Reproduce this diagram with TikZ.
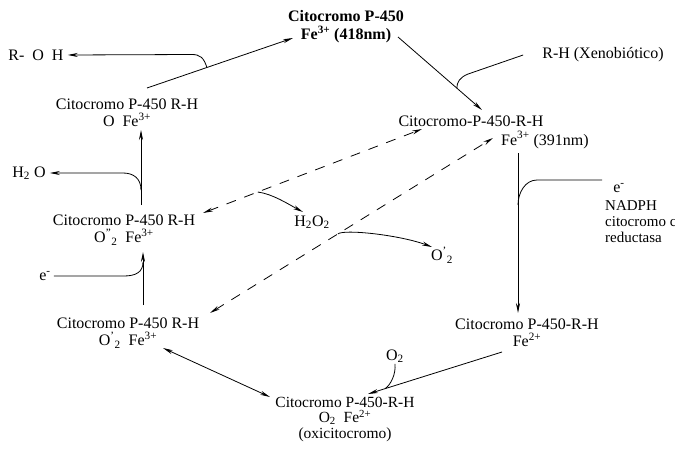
\documentclass[tikz,border=0pt]{standalone}
\usepackage{fontspec}
\setmainfont{Liberation Serif}
\usetikzlibrary{arrows.meta}
\begin{document}
\begin{tikzpicture}[x=1pt,y=-1pt,
  txt/.style={font=\fontsize{16}{17}\selectfont, align=center, inner sep=1pt},
  sml/.style={font=\fontsize{15}{16}\selectfont},
  tip/.tip={Stealth[length=10pt,width=4pt]},
  arr/.style={line width=0.8pt, -tip},
  ln/.style={line width=0.8pt},
  dbl/.style={line width=0.8pt, tip-tip},
  dsh/.style={line width=0.8pt, dash pattern=on 10pt off 9pt, tip-tip}]
\useasboundingbox (0,0) rectangle (675,450);
\fill[white] (0,0) rectangle (675,450);
% nodes
\node[txt, font=\fontsize{16}{18}\selectfont\bfseries] (top) at (346,27) {Citocromo P-450\\Fe\textsuperscript{3+} (418nm)};
\node[txt] (roh) at (36,55) {R-\enspace O\enspace H};
\node[txt] (xeno) at (603,55) {R-H (Xenobiótico)};
\node[txt, inner sep=0.5pt] (rhfe3) at (471,121) {Citocromo-P-450-R-H};
\node[txt, inner sep=0.5pt] (rhfe3b) at (545,140) {Fe\textsuperscript{3+} (391nm)};
\node[txt] (ofe) at (127,113) {Citocromo P-450 R-H\\O\ \ Fe\textsuperscript{3+}};
\node[txt] (h2o) at (29,173) {H\textsubscript{2} O};
\node[txt] (o2s) at (124,230) {Citocromo P-450 R-H\\O\textsuperscript{''}\textsubscript{2}\ \ Fe\textsuperscript{3+}};
\node[txt] (h2o2) at (312,222) {H\textsubscript{2}O\textsubscript{2}};
\node[txt] (enadph) at (619,188) {e\textsuperscript{-}};
\node[txt, sml, align=left, anchor=west] (nadph) at (604,222) {NADPH\\citocromo c\\reductasa};
\node[txt] (eleft) at (45,276) {e\textsuperscript{-}};
\node[txt] (o2rad) at (442,255) {O\textsuperscript{'}\textsubscript{2}};
\node[txt] (o2m) at (128,333) {Citocromo P-450 R-H\\O\textsuperscript{'}\textsubscript{2}\ \ Fe\textsuperscript{3+}};
\node[txt] (fe2) at (527,333) {Citocromo P-450-R-H\\Fe\textsuperscript{2+}};
\node[txt] (o2) at (395,356) {O\textsubscript{2}};
\node[txt, font=\fontsize{15.5}{15.5}\selectfont] (oxi) at (345,419) {Citocromo P-450-R-H\\O\textsubscript{2}\ \ Fe\textsuperscript{2+}\\(oxicitocromo)};
% connectors
\draw[arr] ([shift={(20,-25)}]ofe.center) -- coordinate[pos=0.41] (j1) ([shift={(-53,11)}]top.center);
\draw[arr] (j1) .. controls +(-3,-10) and +(8,0) .. ++(-15,-13) -- ([xshift=3pt]roh.east);
\draw[arr] ([shift={(52,10)}]top.center) -- coordinate[pos=0.70] (j2) ([shift={(11,-11)}]rhfe3.center);
\draw[ln] ([xshift=-18pt]xeno.west) -- ++(-55,19) .. controls +(-8,3) and +(0,-6) .. (j2);
\draw[arr] ([shift={(-27,13)}]rhfe3b.center) -- coordinate[pos=0.325] (j3) ([shift={(-9,-20)}]fe2.center);
\draw[ln] ([shift={(-17,-8)}]enadph.center) -- ++(-65,0) .. controls +(-12,0) and +(0,-12) .. (j3);
\draw[arr] ([shift={(-25,19)}]fe2.center) -- coordinate[pos=0.873] (j4) ([shift={(23,-25)}]oxi.center);
\draw[ln] (o2.south) .. controls +(1,10) and +(6,-4) .. (j4);
\draw[dbl] ([shift={(35,15)}]o2m.center) -- ([shift={(-75,-22)}]oxi.center);
\draw[arr] ([shift={(15,-28)}]o2m.center) -- coordinate[pos=0.81] (j5) ([shift={(19,22)}]o2s.center);
\draw[ln] ([xshift=2pt]eleft.east) -- ++(70,0) .. controls +(12,0) and +(0,10) .. (j5);
\draw[arr] ([shift={(17,-25)}]o2s.center) -- coordinate[pos=0.2] (j6) ([shift={(14,17)}]ofe.center);
\draw[arr] (j6) .. controls +(0,-12) and +(10,0) .. ++(-18,-17) -- ([xshift=3pt]h2o.east);
\draw[dsh] ([shift={(79,-17)}]o2s.center) -- coordinate[pos=0.25] (j7) ([shift={(-49,8)}]rhfe3.center);
\draw[arr] (j7) .. controls +(15,2) and +(-15,-8) .. ([shift={(-9,-10)}]h2o2.center);
\draw[dsh] ([shift={(82,-20)}]o2m.center) -- coordinate[pos=0.452] (j8) ([shift={(-52,-2)}]rhfe3b.center);
\draw[arr] (j8) .. controls +(6,-5) and +(-32,-12) .. ([shift={(-10,-8)}]o2rad.center);
\end{tikzpicture}
\end{document}
